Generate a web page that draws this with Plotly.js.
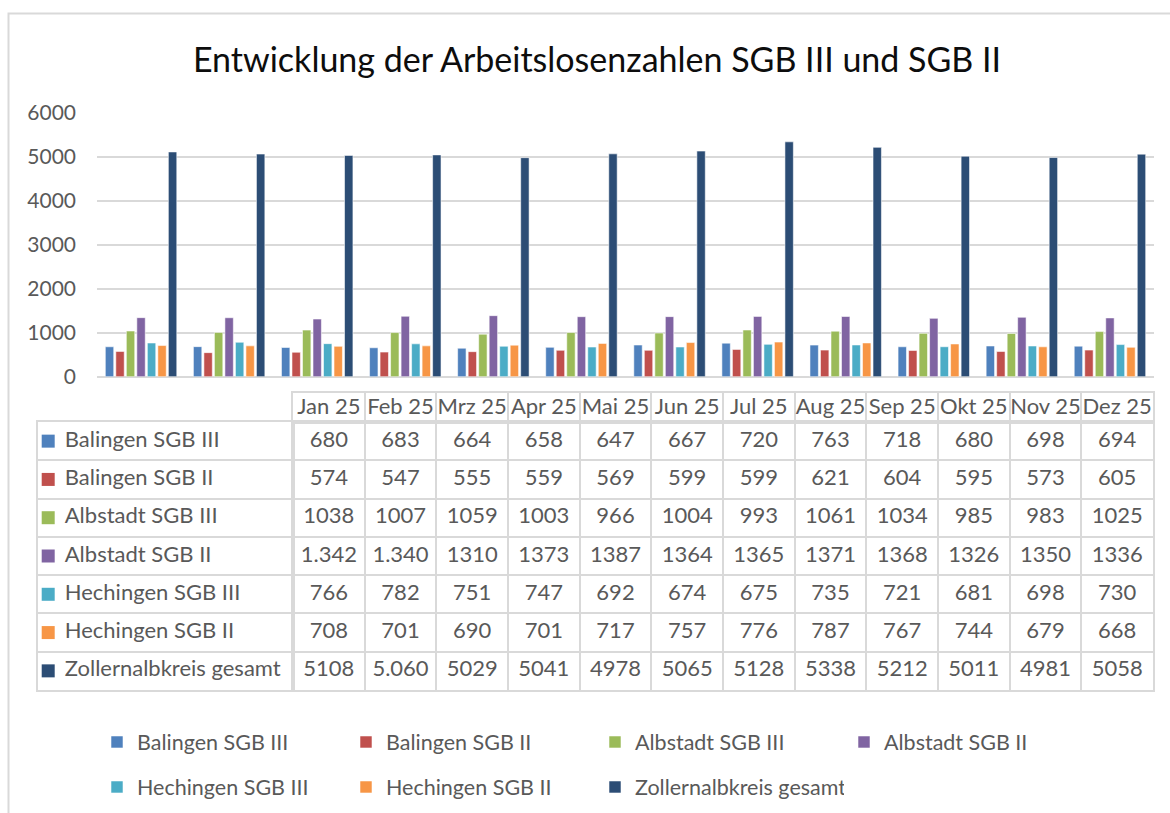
<!DOCTYPE html>
<html>
<head>
<meta charset="utf-8">
<script src="https://cdn.plot.ly/plotly-3.0.1.min.js"></script>
<style>html,body{margin:0;padding:0;background:#fff;}#chart{width:1170px;height:813px;}</style>
</head>
<body>
<div id="chart"></div>
<script>
// ---- data ----
const months = ["Jan 25","Feb 25","Mrz 25","Apr 25","Mai 25","Jun 25","Jul 25","Aug 25","Sep 25","Okt 25","Nov 25","Dez 25"];
const seriesNames = ["Balingen SGB III","Balingen SGB II","Albstadt SGB III","Albstadt SGB II","Hechingen SGB III","Hechingen SGB II","Zollernalbkreis gesamt"];
const balingenSGB3  = [680, 683, 664, 658, 647, 667, 720, 763, 718, 680, 698, 694];
const balingenSGB2  = [574, 547, 555, 559, 569, 599, 599, 621, 604, 595, 573, 605];
const albstadtSGB3  = [1038, 1007, 1059, 1003, 966, 1004, 993, 1061, 1034, 985, 983, 1025];
const albstadtSGB2  = [1342, 1340, 1310, 1373, 1387, 1364, 1365, 1371, 1368, 1326, 1350, 1336];
const hechingenSGB3 = [766, 782, 751, 747, 692, 674, 675, 735, 721, 681, 698, 730];
const hechingenSGB2 = [708, 701, 690, 701, 717, 757, 776, 787, 767, 744, 679, 668];
const zollernalb    = [5108, 5060, 5029, 5041, 4978, 5065, 5128, 5338, 5212, 5011, 4981, 5058];
// cells that the source table shows with a German thousands separator (series index -> month indexes)
const dottedCells = {3: [0, 1], 6: [1]};
const yTicks = [0, 1000, 2000, 3000, 4000, 5000, 6000];

const allSeries = [balingenSGB3, balingenSGB2, albstadtSGB3, albstadtSGB2, hechingenSGB3, hechingenSGB2, zollernalb];
const colors = ["#4F81BD","#C0504D","#9BBB59","#8064A2","#4BACC6","#F79646","#2C4D75"];

const W = 1170, H = 813;
const px = x => x / W;
const py = y => 1 - y / H;
const FONT = "Lato, 'Noto Sans', sans-serif";
const GREY = "#595959";
const LINE = "#d9d9d9";

// ---- bar chart ----
const traces = allSeries.map((vals, i) => ({
  type: "bar",
  name: seriesNames[i],
  x: months,
  y: vals,
  marker: {color: colors[i], line: {color: "rgba(255,255,255,0.55)", width: 1}},
  legend: i < 4 ? "legend" : "legend2",
  xaxis: "x", yaxis: "y",
  hoverinfo: "x+y+name"
}));

// ---- data table (drawn on its own category axes) ----
function fmt(v, si, mi) {
  const s = String(v);
  if (dottedCells[si] && dottedCells[si].indexOf(mi) >= 0) {
    return s.slice(0, s.length - 3) + "." + s.slice(s.length - 3);
  }
  return s;
}
const cx = [], cy = [], ct = [];
allSeries.forEach((s, si) => s.forEach((v, mi) => {
  cx.push(months[mi]); cy.push(seriesNames[si]); ct.push(fmt(v, si, mi));
}));
const tickFont = {family: FONT, size: 21, color: GREY};
const tableFont = {family: FONT, size: 22, color: GREY};
const legendFont = {family: FONT, size: 21.5, color: GREY};

// value cells
traces.push({
  type: "scatter", mode: "text", x: cx, y: cy, text: ct,
  textposition: "middle center", textfont: tableFont,
  xaxis: "x2", yaxis: "y2", showlegend: false, hoverinfo: "skip", cliponaxis: false
});
// header cells
traces.push({
  type: "scatter", mode: "text", x: months, y: months.map(() => 0.45), text: months,
  textposition: "middle center", textfont: tableFont,
  xaxis: "x3", yaxis: "y3", showlegend: false, hoverinfo: "skip", cliponaxis: false
});
// row label keys
traces.push({
  type: "scatter", mode: "markers", x: seriesNames.map(() => 0.04), y: seriesNames,
  marker: {symbol: "square", size: 13, color: colors, line: {width: 0}},
  xaxis: "x4", yaxis: "y2", showlegend: false, hoverinfo: "skip", cliponaxis: false
});
// row label text
traces.push({
  type: "scatter", mode: "text", x: seriesNames.map(() => 0.105), y: seriesNames, text: seriesNames,
  textposition: "middle right", textfont: tableFont,
  xaxis: "x4", yaxis: "y2", showlegend: false, hoverinfo: "skip", cliponaxis: false
});

const tableX0 = 293, tableX1 = 1153, labelX0 = 38;
const headTop = 393, bodyTop = 422, bodyBottom = 690;

const layout = {
  width: W, height: H,
  margin: {l: 0, r: 0, t: 0, b: 0},
  paper_bgcolor: "#ffffff",
  plot_bgcolor: "rgba(0,0,0,0)",
  font: {family: FONT, color: GREY},
  title: {
    text: "Entwicklung der Arbeitslosenzahlen SGB III und SGB II",
    font: {family: FONT, size: 34, color: "#0d0d0d"},
    x: px(597), xanchor: "center", xref: "container",
    y: 1 - 60 / H, yanchor: "middle", yref: "container"
  },
  barmode: "group",
  bargap: 0.165,
  bargroupgap: 0.2,
  xaxis: {
    domain: [px(97), px(1154)], anchor: "y",
    type: "category", categoryarray: months,
    showticklabels: false, showgrid: false, zeroline: false, ticks: "",
    fixedrange: true
  },
  yaxis: {
    domain: [py(376.7), py(112.7)], anchor: "x",
    range: [0, 6000],
    tickvals: yTicks,
    ticktext: yTicks.map(String),
    showgrid: true, gridcolor: LINE, gridwidth: 2,
    zeroline: true, zerolinecolor: LINE, zerolinewidth: 2,
    showline: false, ticks: "",
    ticklabelstandoff: 20,
    tickfont: tickFont,
    fixedrange: true
  },
  // table body: months x series
  xaxis2: {
    domain: [px(tableX0), px(tableX1)], anchor: "y2",
    type: "category", categoryarray: months, range: [-0.5, months.length - 0.5],
    tickson: "boundaries", showgrid: true, gridcolor: LINE, gridwidth: 2,
    showline: true, mirror: true, linecolor: LINE, linewidth: 2,
    showticklabels: false, ticks: "", zeroline: false, fixedrange: true
  },
  yaxis2: {
    domain: [py(bodyBottom), py(bodyTop)], anchor: "x2",
    type: "category", categoryarray: seriesNames, range: [seriesNames.length - 0.5, -0.5],
    tickson: "boundaries", showgrid: true, gridcolor: LINE, gridwidth: 2,
    showline: true, mirror: "all", linecolor: LINE, linewidth: 2,
    showticklabels: false, ticks: "", zeroline: false, fixedrange: true
  },
  // table header row
  xaxis3: {
    domain: [px(tableX0), px(tableX1)], anchor: "y3",
    type: "category", categoryarray: months, range: [-0.5, months.length - 0.5],
    tickson: "boundaries", showgrid: true, gridcolor: LINE, gridwidth: 2,
    showline: true, mirror: true, linecolor: LINE, linewidth: 2,
    showticklabels: false, ticks: "", zeroline: false, fixedrange: true
  },
  yaxis3: {
    domain: [py(bodyTop), py(headTop)], anchor: "x3", range: [0, 1],
    showgrid: false, showline: true, mirror: true, linecolor: LINE, linewidth: 2,
    showticklabels: false, ticks: "", zeroline: false, fixedrange: true
  },
  // table row-label column
  xaxis4: {
    domain: [px(labelX0), px(tableX0)], anchor: "y2", range: [0, 1],
    showgrid: false, showline: true, mirror: true, linecolor: LINE, linewidth: 2,
    showticklabels: false, ticks: "", zeroline: false, fixedrange: true
  },
  legend: {
    orientation: "h", x: px(97), xanchor: "left", y: py(742), yanchor: "middle",
    entrywidth: 204, entrywidthmode: "pixels",
    font: legendFont, bgcolor: "rgba(0,0,0,0)", traceorder: "normal"
  },
  legend2: {
    orientation: "h", x: px(97), xanchor: "left", y: py(787), yanchor: "middle",
    entrywidth: 204, entrywidthmode: "pixels",
    font: legendFont, bgcolor: "rgba(0,0,0,0)", traceorder: "normal"
  },
  shapes: [
    {type: "rect", xref: "paper", yref: "paper", x0: px(8.5), x1: 1.02, y0: -0.02, y1: py(13.5),
     line: {color: LINE, width: 2}, fillcolor: "rgba(0,0,0,0)", layer: "below"}
  ],
  showlegend: true
};

Plotly.newPlot("chart", traces, layout, {displayModeBar: false, staticPlot: true});
</script>
</body>
</html>
